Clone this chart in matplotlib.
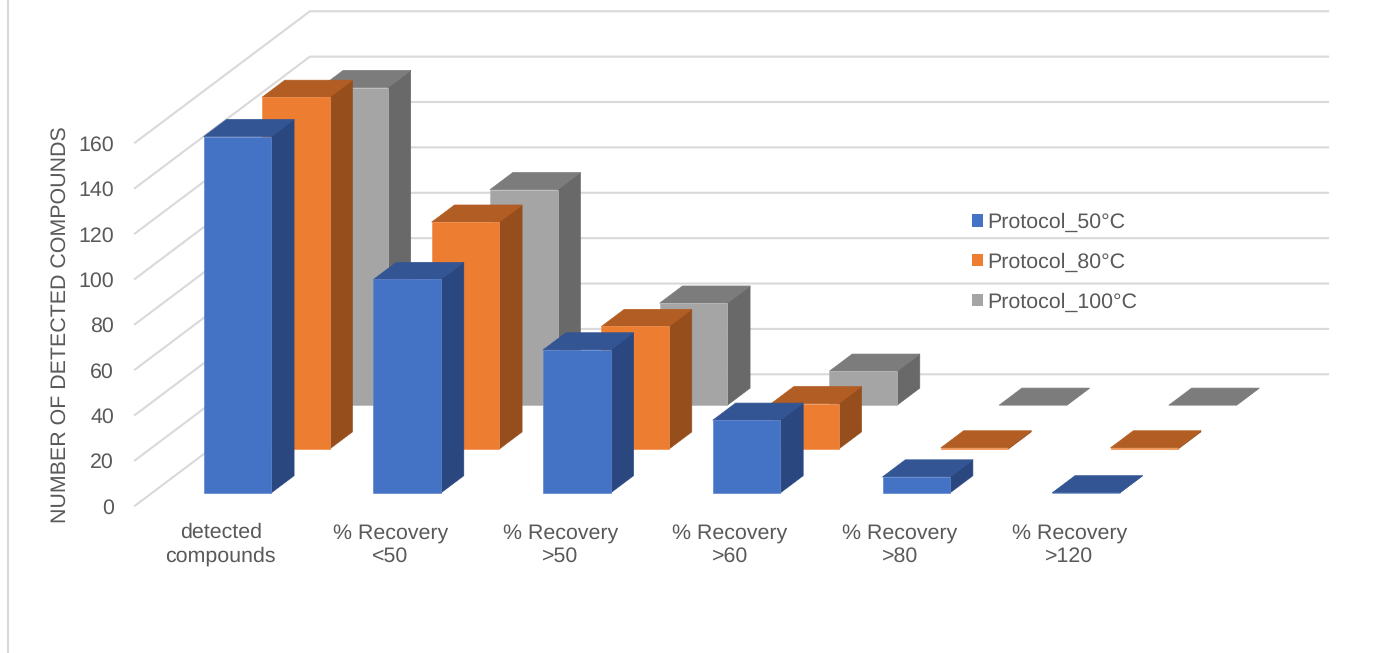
import matplotlib
matplotlib.use("Agg")
import matplotlib.pyplot as plt
from matplotlib.patches import Patch, Polygon
from matplotlib.lines import Line2D
from matplotlib.transforms import ScaledTranslation

categories = ["detected\ncompounds", "% Recovery\n<50", "% Recovery\n>50",
              "% Recovery\n>60", "% Recovery\n>80", "% Recovery\n>120"]
series_names = ["Protocol_50°C", "Protocol_80°C", "Protocol_100°C"]
protocol_50 = [157, 94, 63, 32, 7, 0]
protocol_80 = [155, 100, 54, 20, 0.5, 0.5]
protocol_100 = [140, 95, 45, 15, 0, 0]
value_ticks = [0, 20, 40, 60, 80, 100, 120, 140, 160]

face_colors = ["#4472C4", "#ED7D31", "#A5A5A5"]
top_colors = ["#335593", "#B25D23", "#7C7C7C"]
side_colors = ["#2A4780", "#964F1C", "#696969"]
edge_colors = ["#5F86CE", "#F0904F", "#B8B8B8"]
GRID = "#D9D9D9"
TEXT = "#595959"

# Pixel scale of the axes and the oblique shear of the depth axis.
W, H = 1375, 653
PX_PER_CAT = 169.7
PX_PER_VALUE = 2.269
ORIGIN_X, ORIGIN_Y = 135.0, 505.7
SHEAR_X = 58.3 / PX_PER_CAT
SHEAR_Y = 43.8 / PX_PER_VALUE
N_DEPTH = 3
BAR_GAP, BAR_WIDTH = 0.304, 0.398
DEPTH_GAP, BAR_DEPTH = 0.295, 0.39

FONT = 15.4
plt.rcParams["font.family"] = ["Liberation Sans", "DejaVu Sans"]
plt.rcParams["text.hinting"] = "none"

fig = plt.figure(figsize=(W / 100, H / 100), dpi=100, facecolor="white")
ax = fig.add_axes([0, 0, 1, 1])
ax.set_xlim(-ORIGIN_X / PX_PER_CAT, (W - ORIGIN_X) / PX_PER_CAT)
ax.set_ylim(-(H - ORIGIN_Y) / PX_PER_VALUE, ORIGIN_Y / PX_PER_VALUE)
ax.set_facecolor("white")
for spine in ax.spines.values():
    spine.set_visible(False)


def project(cat, value, depth):
    """Shear a (category, value, depth) point onto the plane of the axes."""
    return cat + depth * SHEAR_X, value + depth * SHEAR_Y


# Wall gridlines run back along the side wall, then across the rear wall.
for v in value_ticks:
    pts = [project(0, v, 0), project(0, v, N_DEPTH), project(len(categories), v, N_DEPTH)]
    ax.plot(*zip(*pts), color=GRID, lw=1.5, solid_joinstyle="miter", zorder=1)


def draw_bar(cat, value, series):
    x0 = cat + BAR_GAP
    x1 = x0 + BAR_WIDTH
    d0 = series + DEPTH_GAP
    d1 = d0 + BAR_DEPTH
    z = 10 + (N_DEPTH - series) * 10
    kw = dict(linewidth=0.5, joinstyle="round", zorder=z)
    front = [project(x0, 0, d0), project(x1, 0, d0), project(x1, value, d0), project(x0, value, d0)]
    side = [project(x1, 0, d0), project(x1, 0, d1), project(x1, value, d1), project(x1, value, d0)]
    top = [project(x0, value, d0), project(x1, value, d0), project(x1, value, d1), project(x0, value, d1)]
    ax.add_patch(Polygon(side, facecolor=side_colors[series], edgecolor=side_colors[series], **kw))
    ax.add_patch(Polygon(top, facecolor=top_colors[series], edgecolor=top_colors[series], **kw))
    ax.add_patch(Polygon(front, facecolor=face_colors[series], edgecolor=edge_colors[series], **kw))


for series, values in reversed(list(enumerate([protocol_50, protocol_80, protocol_100]))):
    for cat, value in enumerate(values):
        draw_bar(cat, value, series)

# Tick labels sit well inside the full-figure axes, hence the negative pads.
ax.set_yticks(value_ticks)
ax.set_yticklabels([str(v) for v in value_ticks], fontsize=FONT, color=TEXT)
ax.tick_params(axis="y", length=0, pad=-114 * 0.72)
ax.set_xticks([i + 0.5 for i in range(len(categories))])
ax.set_xticklabels(categories, fontsize=FONT, color=TEXT, linespacing=1.27)
ax.tick_params(axis="x", length=0, pad=-(H - 523) * 0.72)
nudge = ScaledTranslation(0, -2.5 / 100, fig.dpi_scale_trans)
for lab in ax.get_yticklabels():
    lab.set_verticalalignment("center")
    lab.set_transform(lab.get_transform() + nudge)
x_nudge = ScaledTranslation(1 / 100, 0, fig.dpi_scale_trans)
for lab in ax.get_xticklabels():
    lab.set_transform(lab.get_transform() + x_nudge)

ax.set_ylabel("NUMBER OF DETECTED COMPOUNDS", fontsize=FONT, color=TEXT)
ax.yaxis.set_label_coords(70 / W, 1 - 325 / H)

# Outer frame line on the left of the chart area.
ax.add_line(Line2D([8 / W, 8 / W], [0, 1], transform=ax.transAxes, color=GRID, lw=1.5, zorder=1))

handles = [Patch(facecolor=c, edgecolor="none") for c in face_colors]
legend = ax.legend(handles, series_names, frameon=False, fontsize=FONT,
                   loc="upper left", bbox_to_anchor=(972 / W, 1 - 213 / H),
                   borderpad=0, borderaxespad=0, labelspacing=0.94,
                   handlelength=0.51, handleheight=0.51, handletextpad=0.22,
                   labelcolor=TEXT)
legend.set_zorder(100)

fig.savefig("out.png", dpi=100, facecolor="white")
